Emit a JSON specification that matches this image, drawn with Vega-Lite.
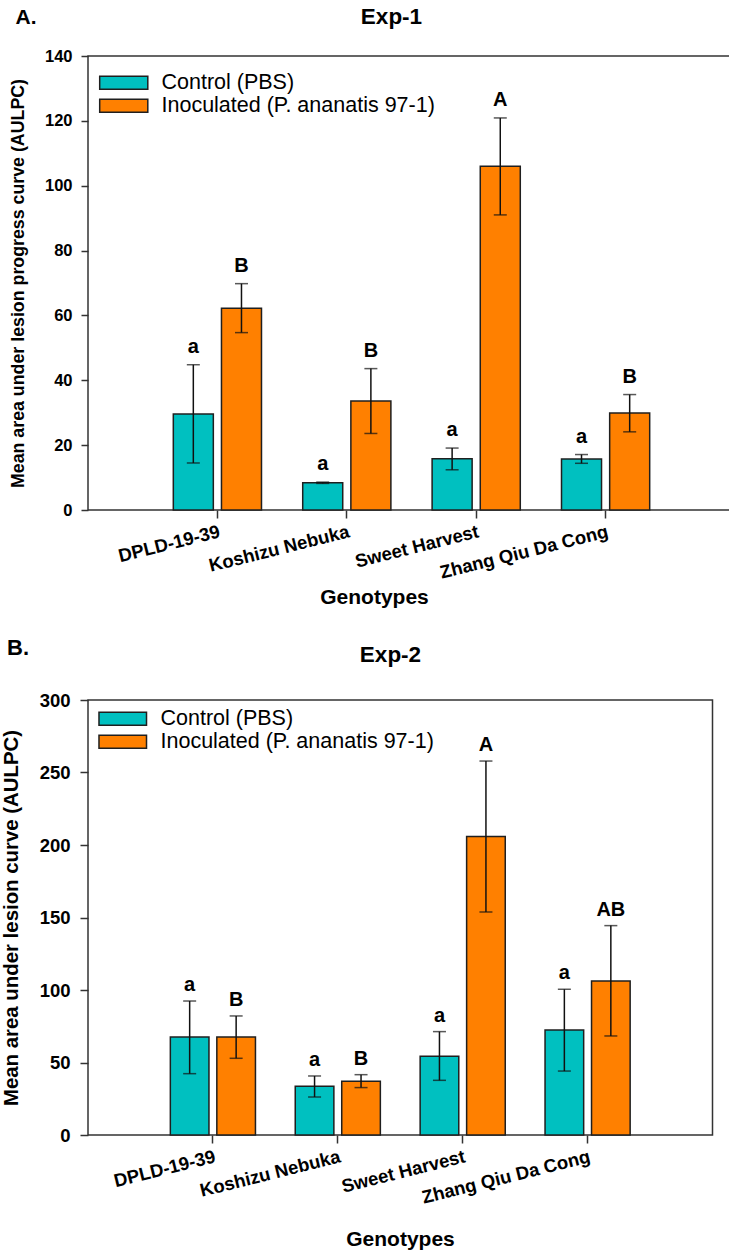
{
  "$schema": "https://vega.github.io/schema/vega-lite/v6.json",
  "padding": {"left": 0, "top": 4, "right": 0, "bottom": 0},
  "autosize": {"type": "pad"},
  "background": "white",
  "config": {
    "font": "Liberation Sans",
    "view": {"stroke": "#333333", "strokeWidth": 1.5},
    "axis": {
      "labelColor": "black",
      "titleColor": "black",
      "tickColor": "#333333",
      "tickWidth": 1.5,
      "labelFont": "Liberation Sans",
      "titleFont": "Liberation Sans",
      "labelFontWeight": "bold",
      "titleFontWeight": "bold",
      "grid": false,
      "domain": false
    },
    "legend": {
      "labelFont": "Liberation Sans",
      "labelColor": "black",
      "labelLimit": 500
    }
  },
  "datasets": {
    "exp1": [
      {"genotype": "DPLD-19-39", "treatment": "Control (PBS)", "mean": 29.6, "lower": 14.5, "upper": 44.8, "letter": "a"},
      {"genotype": "DPLD-19-39", "treatment": "Inoculated (P. ananatis 97-1)", "mean": 62.2, "lower": 54.7, "upper": 69.8, "letter": "B"},
      {"genotype": "Koshizu Nebuka", "treatment": "Control (PBS)", "mean": 8.4, "lower": 8.2, "upper": 8.6, "letter": "a"},
      {"genotype": "Koshizu Nebuka", "treatment": "Inoculated (P. ananatis 97-1)", "mean": 33.6, "lower": 23.6, "upper": 43.6, "letter": "B"},
      {"genotype": "Sweet Harvest", "treatment": "Control (PBS)", "mean": 15.8, "lower": 12.4, "upper": 19.1, "letter": "a"},
      {"genotype": "Sweet Harvest", "treatment": "Inoculated (P. ananatis 97-1)", "mean": 106.0, "lower": 91.0, "upper": 120.9, "letter": "A"},
      {"genotype": "Zhang Qiu Da Cong", "treatment": "Control (PBS)", "mean": 15.7, "lower": 14.4, "upper": 17.1, "letter": "a"},
      {"genotype": "Zhang Qiu Da Cong", "treatment": "Inoculated (P. ananatis 97-1)", "mean": 29.9, "lower": 24.1, "upper": 35.6, "letter": "B"}
    ],
    "exp2": [
      {"genotype": "DPLD-19-39", "treatment": "Control (PBS)", "mean": 67.6, "lower": 42.3, "upper": 92.4, "letter": "a"},
      {"genotype": "DPLD-19-39", "treatment": "Inoculated (P. ananatis 97-1)", "mean": 67.6, "lower": 52.9, "upper": 82.1, "letter": "B"},
      {"genotype": "Koshizu Nebuka", "treatment": "Control (PBS)", "mean": 33.6, "lower": 26.2, "upper": 40.7, "letter": "a"},
      {"genotype": "Koshizu Nebuka", "treatment": "Inoculated (P. ananatis 97-1)", "mean": 37.0, "lower": 32.7, "upper": 41.6, "letter": "B"},
      {"genotype": "Sweet Harvest", "treatment": "Control (PBS)", "mean": 54.3, "lower": 37.7, "upper": 71.3, "letter": "a"},
      {"genotype": "Sweet Harvest", "treatment": "Inoculated (P. ananatis 97-1)", "mean": 205.8, "lower": 153.8, "upper": 257.9, "letter": "A"},
      {"genotype": "Zhang Qiu Da Cong", "treatment": "Control (PBS)", "mean": 72.4, "lower": 44.1, "upper": 100.5, "letter": "a"},
      {"genotype": "Zhang Qiu Da Cong", "treatment": "Inoculated (P. ananatis 97-1)", "mean": 106.2, "lower": 68.3, "upper": 144.4, "letter": "AB"}
    ]
  },
  "concat": [
    {
      "width": 647,
      "height": 454,
      "data": {"name": "exp1"},
      "resolve": {"axis": {"x": "independent", "y": "independent"}},
      "layer": [
        {
          "mark": {"type": "bar", "stroke": "#1f1f1f", "strokeWidth": 1.5},
          "encoding": {
            "x": {
              "field": "genotype", "type": "nominal",
              "sort": ["DPLD-19-39", "Koshizu Nebuka", "Sweet Harvest", "Zhang Qiu Da Cong"],
              "scale": {"paddingInner": 0, "paddingOuter": 0.5},
              "axis": {
                "orient": "bottom", "title": "Genotypes",
                "labelAngle": -14, "labelFontSize": 18.5, "tickSize": 8, "labelPadding": 4,
                "titleFontSize": 21, "titleX": 286, "titleY": 93, "titleBaseline": "alphabetic"
              }
            },
            "xOffset": {
              "field": "treatment", "type": "nominal",
              "scale": {"paddingInner": 0.169, "paddingOuter": 0.428}
            },
            "y": {
              "field": "mean", "type": "quantitative",
              "scale": {"domain": [0, 140], "nice": false},
              "axis": {
                "orient": "left", "title": "Mean area under lesion progress curve (AULPC)",
                "values": [0, 20, 40, 60, 80, 100, 120, 140],
                "labelFontSize": 16.5, "tickSize": 7, "labelPadding": 9,
                "titleFontSize": 17.8, "titleX": -65, "titleBaseline": "alphabetic"
              }
            },
            "fill": {
              "field": "treatment", "type": "nominal",
              "scale": {"domain": ["Control (PBS)", "Inoculated (P. ananatis 97-1)"], "range": ["#00C0C0", "#FF8000"]},
              "legend": {
                "orient": "none", "legendX": 25, "legendY": 16, "title": null, "padding": 0,
                "symbolType": "M-3.7,-1L3.7,-1L3.7,1L-3.7,1Z", "symbolSize": 169,
                "symbolStrokeColor": "#1f1f1f", "symbolStrokeWidth": 1.5,
                "labelFontSize": 21.5, "labelOffset": 27, "rowPadding": 0
              }
            }
          }
        },
        {
          "mark": {"type": "rule", "color": "#111111", "strokeWidth": 1.5},
          "encoding": {
            "x": {"field": "genotype", "type": "nominal", "sort": ["DPLD-19-39", "Koshizu Nebuka", "Sweet Harvest", "Zhang Qiu Da Cong"], "axis": null},
            "xOffset": {"field": "treatment", "type": "nominal"},
            "y": {"field": "lower", "type": "quantitative", "axis": null},
            "y2": {"field": "upper"}
          }
        },
        {
          "mark": {"type": "tick", "color": "#111111", "size": 13, "thickness": 1.5},
          "encoding": {
            "x": {
              "field": "genotype", "type": "nominal", "sort": ["DPLD-19-39", "Koshizu Nebuka", "Sweet Harvest", "Zhang Qiu Da Cong"],
              "axis": {
                "orient": "top", "title": "Exp-1", "labels": false, "ticks": false,
                "titleFontSize": 22.5, "titleX": 303, "titleY": -33, "titleAlign": "center", "titleBaseline": "alphabetic"
              }
            },
            "xOffset": {"field": "treatment", "type": "nominal"},
            "y": {
              "field": "upper", "type": "quantitative",
              "axis": {
                "orient": "right", "title": "A.", "labels": false, "ticks": false,
                "titleFontSize": 21, "titleAngle": 0, "titleX": -720, "titleY": -33, "titleAlign": "left", "titleBaseline": "alphabetic"
              }
            }
          }
        },
        {
          "mark": {"type": "tick", "color": "#111111", "size": 13, "thickness": 1.5},
          "encoding": {
            "x": {"field": "genotype", "type": "nominal", "sort": ["DPLD-19-39", "Koshizu Nebuka", "Sweet Harvest", "Zhang Qiu Da Cong"], "axis": null},
            "xOffset": {"field": "treatment", "type": "nominal"},
            "y": {"field": "lower", "type": "quantitative", "axis": null}
          }
        },
        {
          "mark": {"type": "text", "font": "Liberation Sans", "fontWeight": "bold", "fontSize": 20, "baseline": "alphabetic", "dy": -12, "color": "black"},
          "encoding": {
            "x": {"field": "genotype", "type": "nominal", "sort": ["DPLD-19-39", "Koshizu Nebuka", "Sweet Harvest", "Zhang Qiu Da Cong"], "axis": null},
            "xOffset": {"field": "treatment", "type": "nominal"},
            "y": {"field": "upper", "type": "quantitative", "axis": null},
            "text": {"field": "letter"}
          }
        }
      ]
    },
    {
      "width": 624.5,
      "height": 435,
      "data": {"name": "exp2"},
      "resolve": {"axis": {"x": "independent", "y": "independent"}},
      "layer": [
        {
          "mark": {"type": "bar", "stroke": "#1f1f1f", "strokeWidth": 1.5},
          "encoding": {
            "x": {
              "field": "genotype", "type": "nominal",
              "sort": ["DPLD-19-39", "Koshizu Nebuka", "Sweet Harvest", "Zhang Qiu Da Cong"],
              "scale": {"paddingInner": 0, "paddingOuter": 0.5},
              "axis": {
                "orient": "bottom", "title": "Genotypes",
                "labelAngle": -14, "labelFontSize": 18.5, "tickSize": 8, "labelPadding": 4,
                "titleFontSize": 21, "titleX": 312, "titleY": 110, "titleBaseline": "alphabetic"
              }
            },
            "xOffset": {
              "field": "treatment", "type": "nominal",
              "scale": {"paddingInner": 0.169, "paddingOuter": 0.428}
            },
            "y": {
              "field": "mean", "type": "quantitative",
              "scale": {"domain": [0, 300], "nice": false},
              "axis": {
                "orient": "left", "title": "Mean area under lesion curve (AULPC)",
                "values": [0, 50, 100, 150, 200, 250, 300],
                "labelFontSize": 18.5, "tickSize": 8, "labelPadding": 10,
                "titleFontSize": 20.4, "titleX": -71, "titleBaseline": "alphabetic"
              }
            },
            "fill": {
              "field": "treatment", "type": "nominal",
              "scale": {"domain": ["Control (PBS)", "Inoculated (P. ananatis 97-1)"], "range": ["#00C0C0", "#FF8000"]},
              "legend": {
                "orient": "none", "legendX": 24, "legendY": 8, "title": null, "padding": 0,
                "symbolType": "M-3.7,-1L3.7,-1L3.7,1L-3.7,1Z", "symbolSize": 165,
                "symbolStrokeColor": "#1f1f1f", "symbolStrokeWidth": 1.5,
                "labelFontSize": 21.5, "labelOffset": 27, "rowPadding": 0
              }
            }
          }
        },
        {
          "mark": {"type": "rule", "color": "#111111", "strokeWidth": 1.5},
          "encoding": {
            "x": {"field": "genotype", "type": "nominal", "sort": ["DPLD-19-39", "Koshizu Nebuka", "Sweet Harvest", "Zhang Qiu Da Cong"], "axis": null},
            "xOffset": {"field": "treatment", "type": "nominal"},
            "y": {"field": "lower", "type": "quantitative", "axis": null},
            "y2": {"field": "upper"}
          }
        },
        {
          "mark": {"type": "tick", "color": "#111111", "size": 13, "thickness": 1.5},
          "encoding": {
            "x": {
              "field": "genotype", "type": "nominal", "sort": ["DPLD-19-39", "Koshizu Nebuka", "Sweet Harvest", "Zhang Qiu Da Cong"],
              "axis": {
                "orient": "top", "title": "Exp-2", "labels": false, "ticks": false,
                "titleFontSize": 22.5, "titleX": 302, "titleY": -39, "titleAlign": "center", "titleBaseline": "alphabetic"
              }
            },
            "xOffset": {"field": "treatment", "type": "nominal"},
            "y": {
              "field": "upper", "type": "quantitative",
              "axis": {
                "orient": "right", "title": "B.", "labels": false, "ticks": false,
                "titleFontSize": 22, "titleAngle": 0, "titleX": -706, "titleY": -46, "titleAlign": "left", "titleBaseline": "alphabetic"
              }
            }
          }
        },
        {
          "mark": {"type": "tick", "color": "#111111", "size": 13, "thickness": 1.5},
          "encoding": {
            "x": {"field": "genotype", "type": "nominal", "sort": ["DPLD-19-39", "Koshizu Nebuka", "Sweet Harvest", "Zhang Qiu Da Cong"], "axis": null},
            "xOffset": {"field": "treatment", "type": "nominal"},
            "y": {"field": "lower", "type": "quantitative", "axis": null}
          }
        },
        {
          "mark": {"type": "text", "font": "Liberation Sans", "fontWeight": "bold", "fontSize": 20, "baseline": "alphabetic", "dy": -10, "color": "black"},
          "encoding": {
            "x": {"field": "genotype", "type": "nominal", "sort": ["DPLD-19-39", "Koshizu Nebuka", "Sweet Harvest", "Zhang Qiu Da Cong"], "axis": null},
            "xOffset": {"field": "treatment", "type": "nominal"},
            "y": {"field": "upper", "type": "quantitative", "axis": null},
            "text": {"field": "letter"}
          }
        }
      ]
    }
  ],
  "columns": 1,
  "align": "none",
  "spacing": 27,
  "resolve": {
    "scale": {"color": "independent", "fill": "independent", "x": "independent", "y": "independent", "xOffset": "independent"},
    "legend": {"fill": "independent"}
  }
}
